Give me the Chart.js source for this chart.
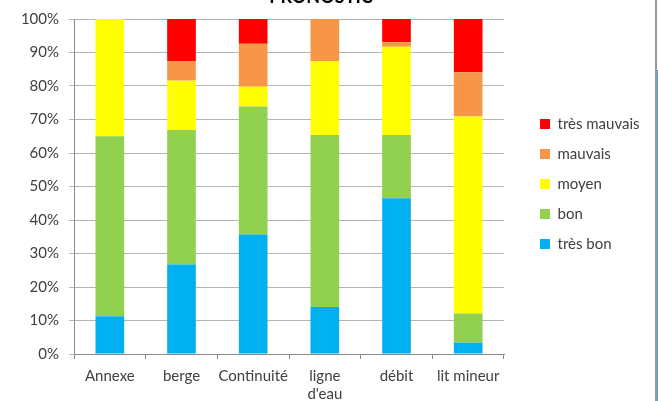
<!DOCTYPE html>
<html>
<head>
<meta charset="utf-8">
<script src="https://cdn.jsdelivr.net/npm/chart.js@4"></script>
<style>
html, body { margin: 0; padding: 0; background: #fff; }
#wrap { position: relative; width: 658px; height: 401px; overflow: hidden; }
#box { position: absolute; left: 0; top: 0; width: 655px; height: 401px; }
#edge { position: absolute; left: 655px; top: 0; width: 2px; height: 401px; background: #9a9a9a; }
#edge2 { position: absolute; left: 657px; top: 70px; width: 1px; height: 331px; background: #3ea6dc; }
</style>
</head>
<body>
<div id="wrap">
  <div id="box"><canvas id="c"></canvas></div>
  <div id="edge"></div>
  <div id="edge2"></div>
</div>
<script>
var categories = ['Annexe', 'berge', 'Continuité', ['ligne', "d'eau"], 'débit', 'lit mineur'];
var tresBon     = [11.3, 26.7, 35.7, 14.0, 46.5, 3.4];
var bon         = [53.7, 40.2, 38.2, 51.4, 18.9, 8.7];
var moyen       = [35.0, 14.7, 5.9, 22.0, 26.3, 58.8];
var mauvais     = [0, 5.8, 12.8, 12.6, 1.4, 13.2];
var tresMauvais = [0, 12.6, 7.4, 0, 6.9, 15.9];
var yTicks = [0, 10, 20, 30, 40, 50, 60, 70, 80, 90, 100];
var title = 'PRONOSTIC';

var FONT = 'Lato, "Open Sans", sans-serif';
var TXT = '#404040';
var GRID = '#b4b4b4';

function ds(label, data, col) {
  return { label: label, data: data, backgroundColor: col, borderWidth: 0,
    barPercentage: 0.4, categoryPercentage: 1 };
}

// title sits mostly above the visible frame, only its bottom shows
var cutTitle = {
  id: 'cutTitle',
  afterDraw: function(chart) {
    var ctx = chart.ctx;
    ctx.save();
    ctx.font = 'bold 18px ' + FONT;
    ctx.fillStyle = '#000';
    ctx.textAlign = 'center';
    ctx.textBaseline = 'alphabetic';
    ctx.fillText(title, 321, 3);
    ctx.restore();
  }
};

// legend: reserve 151px on the right, then nudge items like the excel one
var legendPlace = {
  id: 'legendPlace',
  afterInit: function(chart) {
    var lg = chart.legend;
    var fit = lg.fit;
    lg.fit = function() { fit.call(this); this.width = 151; };
  },
  afterLayout: function(chart) {
    var lg = chart.legend;
    lg.left += 21; lg.right += 21;
    lg.top -= 25; lg.bottom -= 25;
  }
};

new Chart(document.getElementById('c'), {
  type: 'bar',
  data: {
    labels: categories,
    datasets: [
      ds('très bon', tresBon, '#00B0F0'),
      ds('bon', bon, '#92D050'),
      ds('moyen', moyen, '#FFFF00'),
      ds('mauvais', mauvais, '#F79646'),
      ds('très mauvais', tresMauvais, '#FF0000')
    ]
  },
  options: {
    responsive: true, maintainAspectRatio: false, animation: false,
    layout: { padding: { top: 17, left: 0, right: 0, bottom: 0 } },
    plugins: {
      legend: {
        position: 'right', reverse: true,
        labels: { color: TXT, font: { family: FONT, size: 15 }, boxWidth: 10, boxHeight: 10, padding: 15 }
      },
      tooltip: { enabled: false }
    },
    scales: {
      x: {
        stacked: true,
        grid: { drawOnChartArea: false, drawTicks: true, tickLength: 5, color: '#8a8a8a' },
        border: { color: '#8a8a8a' },
        ticks: { color: TXT, font: { family: FONT, size: 15 }, padding: 8, maxRotation: 0, autoSkip: false },
        afterFit: function(s) { s.height = 47; }
      },
      y: {
        stacked: true, min: 0, max: 100,
        afterBuildTicks: function(s) { s.ticks = yTicks.map(function(v) { return { value: v }; }); },
        grid: { color: GRID, tickLength: 5 },
        border: { color: '#8a8a8a' },
        ticks: { color: TXT, font: { family: FONT, size: 15 }, padding: 10,
          callback: function(v) { return v + '%'; } },
        afterFit: function(s) { s.width = 74; }
      }
    }
  },
  plugins: [cutTitle, legendPlace]
});
</script>
</body>
</html>
